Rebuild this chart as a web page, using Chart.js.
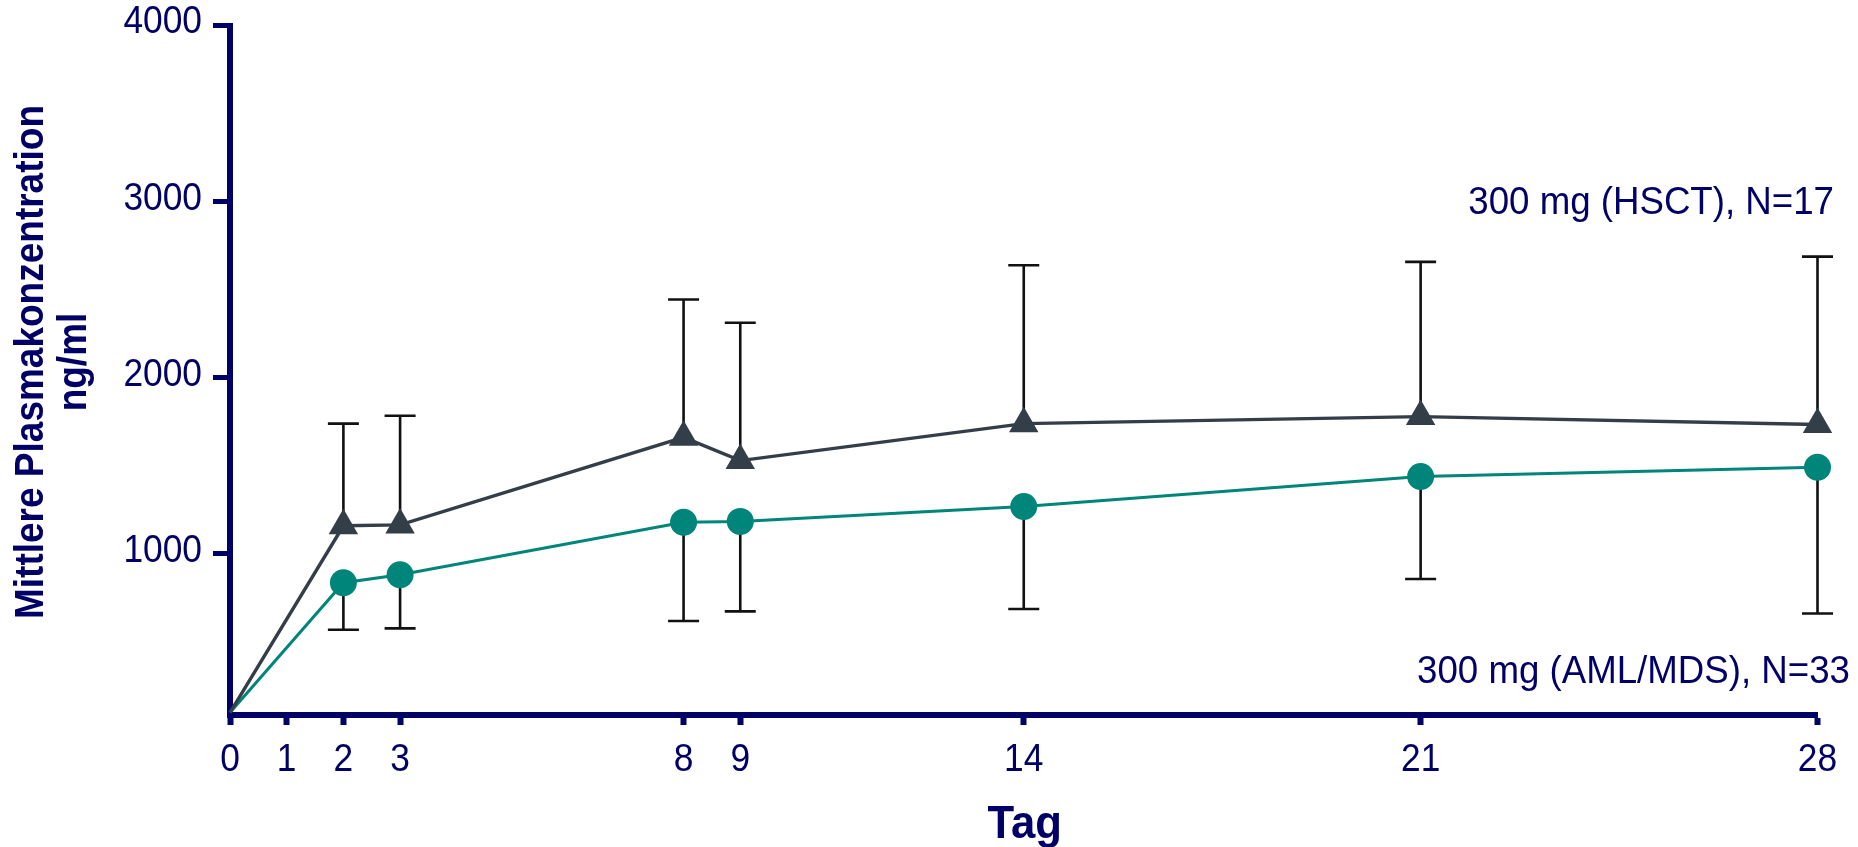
<!DOCTYPE html>
<html>
<head>
<meta charset="utf-8">
<script src="https://cdn.jsdelivr.net/npm/chart.js@4.4.1/dist/chart.umd.min.js"></script>
<style>
  html, body { margin: 0; padding: 0; background: #ffffff; }
  #wrap { width: 1858px; height: 847px; position: relative; }
</style>
</head>
<body>
<div id="wrap"><canvas id="c"></canvas></div>
<script>
// ---- data ----
const days = [0, 2, 3, 8, 9, 14, 21, 28];
const hsctMean = [100, 1160, 1165, 1662, 1530, 1740, 1780, 1735];
const hsctSD   = [null, 580, 620, 783, 783, 899, 878, 953];
const amlMean  = [100, 837, 882, 1180, 1185, 1270, 1440, 1492];
const amlSD    = [null, 267, 304, 560, 511, 582, 582, 830];
const xTickDays = [0, 1, 2, 3, 8, 9, 14, 21, 28];
const yTickValues = [1000, 2000, 3000, 4000];
const hsctLabel = '300 mg (HSCT), N=17';
const amlLabel = '300 mg (AML/MDS), N=33';
const xTitle = 'Tag';
const yTitle = ['Mittlere Plasmakonzentration', 'ng/ml'];

const NAVY = '#000066';
const FONT = "'Liberation Sans', Arial, Helvetica, sans-serif";

const toXY = (xs, ys) => xs.map((x, i) => ({ x: x, y: ys[i] }));

// draws text with a slight horizontal condensation (sx) along the text direction
function drawText(ctx, text, x, y, o) {
  ctx.save();
  ctx.translate(x, y);
  if (o.rotate) ctx.rotate(o.rotate);
  ctx.scale(o.sx || 1, 1);
  ctx.font = (o.bold ? 'bold ' : '') + o.size + 'px ' + FONT;
  ctx.fillStyle = NAVY;
  ctx.textAlign = o.align || 'left';
  ctx.textBaseline = o.baseline || 'alphabetic';
  ctx.fillText(text, 0, 0);
  ctx.restore();
}

const errorBarPlugin = {
  id: 'errorBars',
  beforeDatasetsDraw(chart) {
    const ctx = chart.ctx;
    const yScale = chart.scales.y;
    chart.data.datasets.forEach((ds, di) => {
      if (!ds.errors) return;
      const meta = chart.getDatasetMeta(di);
      ctx.save();
      ctx.strokeStyle = '#111111';
      ctx.lineWidth = 2.6;
      ctx.lineCap = 'butt';
      meta.data.forEach((pt, i) => {
        const e = ds.errors[i];
        if (e === null || e === undefined) return;
        const v = ds.data[i].y + (ds.errorDir === 'up' ? e : -e);
        const yEnd = yScale.getPixelForValue(v);
        ctx.beginPath();
        ctx.moveTo(pt.x, pt.y);
        ctx.lineTo(pt.x, yEnd);
        ctx.moveTo(pt.x - 15.5, yEnd);
        ctx.lineTo(pt.x + 15.5, yEnd);
        ctx.stroke();
      });
      ctx.restore();
    });
  }
};

const textPlugin = {
  id: 'texts',
  afterDraw(chart) {
    const ctx = chart.ctx;
    const a = chart.chartArea;
    const xs = chart.scales.x, ys = chart.scales.y;
    // y tick labels
    yTickValues.forEach(v => {
      drawText(ctx, String(v), 202, ys.getPixelForValue(v) - 2.5,
        { size: 38, sx: 0.93, align: 'right', baseline: 'middle' });
    });
    // x tick labels
    xTickDays.forEach(d => {
      drawText(ctx, String(d), xs.getPixelForValue(d), 760.5,
        { size: 38, sx: 0.93, align: 'center', baseline: 'middle' });
    });
    // x title
    drawText(ctx, xTitle, (a.left + a.right) / 2 + 1, 837.5,
      { size: 47, bold: true, sx: 0.93, align: 'center' });
    // y title (rotated)
    const cy = 362;
    drawText(ctx, yTitle[0], 43, cy, { size: 40, bold: true, sx: 0.925, align: 'center', rotate: -Math.PI / 2 });
    drawText(ctx, yTitle[1], 86, cy, { size: 40, bold: true, sx: 0.925, align: 'center', rotate: -Math.PI / 2 });
    // series labels
    drawText(ctx, hsctLabel, 1834, 214, { size: 39, sx: 0.94, align: 'right' });
    drawText(ctx, amlLabel, 1850, 683, { size: 39, sx: 0.94, align: 'right' });
  }
};

new Chart(document.getElementById('c'), {
  type: 'line',
  data: {
    datasets: [
      {
        label: hsctLabel,
        data: toXY(days, hsctMean),
        errors: hsctSD,
        errorDir: 'up',
        borderColor: '#343e48',
        backgroundColor: '#343e48',
        borderWidth: 3.4,
        pointStyle: 'triangle',
        pointRadius: 17,
        pointBorderWidth: 0,
        pointBackgroundColor: days.map(d => d === 0 ? 'rgba(0,0,0,0)' : '#343e48'),
        tension: 0,
        clip: false
      },
      {
        label: amlLabel,
        data: toXY(days, amlMean),
        errors: amlSD,
        errorDir: 'down',
        borderColor: '#00857a',
        backgroundColor: '#00857a',
        borderWidth: 3,
        pointStyle: 'circle',
        pointRadius: 13.5,
        pointBorderWidth: 0,
        pointBackgroundColor: days.map(d => d === 0 ? 'rgba(0,0,0,0)' : '#00857a'),
        tension: 0,
        clip: false
      }
    ]
  },
  options: {
    responsive: true,
    maintainAspectRatio: false,
    animation: false,
    devicePixelRatio: 1,
    layout: { padding: { top: 25.5, right: 40.5, left: 0, bottom: 0 } },
    plugins: {
      legend: { display: false },
      tooltip: { enabled: false }
    },
    scales: {
      x: {
        type: 'linear',
        min: 0,
        max: 28,
        afterBuildTicks: (s) => { s.ticks = xTickDays.map(v => ({ value: v })); },
        afterFit: (s) => { s.height = 132; },
        border: { display: true, color: NAVY, width: 6 },
        grid: { drawOnChartArea: false, drawTicks: true, tickLength: 10, tickWidth: 6, tickColor: NAVY },
        ticks: { display: false, autoSkip: false, maxRotation: 0 },
        title: { display: false }
      },
      y: {
        type: 'linear',
        min: 86,
        max: 4000,
        afterBuildTicks: (s) => { s.ticks = yTickValues.map(v => ({ value: v })); },
        afterFit: (s) => { s.width = 230; },
        border: { display: true, color: NAVY, width: 6 },
        grid: { drawOnChartArea: false, drawTicks: true, tickLength: 17, tickWidth: 5, tickColor: NAVY },
        ticks: { display: false, autoSkip: false },
        title: { display: false }
      }
    }
  },
  plugins: [errorBarPlugin, textPlugin]
});
</script>
</body>
</html>
